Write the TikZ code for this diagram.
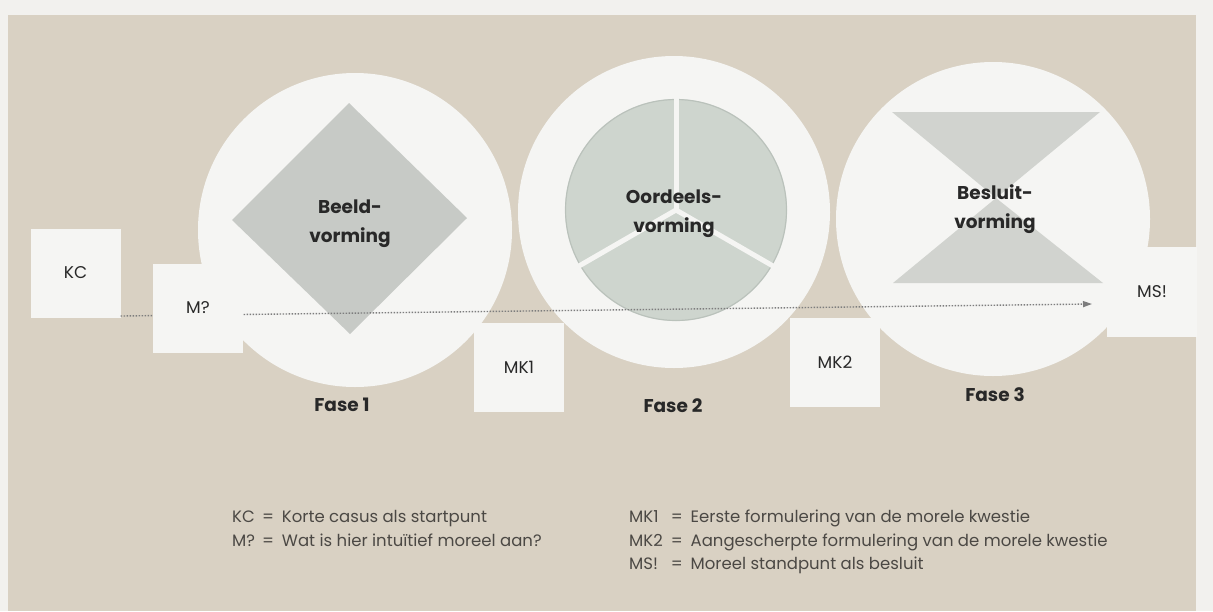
\documentclass[tikz,border=0pt]{standalone}
\usepackage{fontspec}
\setmainfont{Poppins}
\usetikzlibrary{arrows.meta}
\definecolor{paper}{RGB}{242,241,238}
\definecolor{bg}{RGB}{217,209,195}
\definecolor{discw}{RGB}{245,245,243}
\definecolor{diam}{RGB}{199,202,198}
\definecolor{pie}{RGB}{206,213,206}
\definecolor{pieedge}{RGB}{178,186,180}
\definecolor{hour}{RGB}{209,211,207}
\definecolor{ink}{RGB}{40,40,40}
\definecolor{legendink}{RGB}{75,72,68}
\definecolor{dotc}{RGB}{125,125,125}
\tikzset{
  discnode/.style={circle, fill=discw, inner sep=0pt, minimum size=#1},
  box/.style={rectangle, fill=discw, inner sep=0pt, minimum width=90pt, minimum height=89pt,
     font=\fontsize{17}{20}\selectfont, text=ink},
  phase/.style={align=center, font=\bfseries\fontsize{18.5}{29}\selectfont, text=ink},
  fase/.style={font=\bfseries\fontsize{18.5}{20}\selectfont, text=ink},
  legend/.style={anchor=north west, inner sep=0pt, font=\fontsize{16.5}{23.5}\selectfont, text=legendink},
  flow/.style={draw=dotc, line width=1.4pt, dash pattern=on 1.4pt off 1.6pt,
     -{Triangle[length=9pt,width=6pt,fill=dotc]}},
  divider/.style={draw=discw, line width=5pt},
}
\begin{document}
\begin{tikzpicture}[x=1pt,y=-1pt]
\useasboundingbox (0,0) rectangle (1213,611);
\fill[paper] (0,0) rectangle (1213,611);
\fill[bg] (8,15) rectangle (1196,611);

% discs
\node[discnode=314pt] (c1) at (355,230) {};
\node[discnode=312pt] (c2) at (674,212) {};
\node[discnode=314pt] (c3) at (993,219) {};

% phase 1: diamond
\fill[diam] (349,103) -- (467,218) -- (350,334) -- (232,220) -- cycle;
% phase 2: three-part disc
\fill[pie] (676,210) circle[radius=111pt];
\draw[pieedge, line width=1.2pt, opacity=0.7] (676,210) circle[radius=110.5pt];
\foreach \a in {90,210,330}
  \draw[divider] (676,210) -- ++(\a:114pt);
% phase 3: hourglass
\fill[hour] (892,112) -- (1100,112) -- (996,198) -- cycle;
\fill[hour] (996,198) -- (1103,283) -- (893,283) -- cycle;

% phase texts
\node[phase] (p1) at (350,224) {Beeld-\\vorming};
\node[phase] (p2) at (674,214) {Oordeels-\\vorming};
\node[phase] (p3) at (995,209) {Besluit-\\vorming};

\node[fase] (f1) at (342,405) {Fase 1};
\node[fase] (f2) at (673,406) {Fase 2};
\node[fase] (f3) at (995,395) {Fase 3};

% boxes and flow line
\node[box] (kc) at (75.5,273) {KC};
\coordinate (startY) at (0,316);
\coordinate (tip) at (1092,304);
\draw[flow] (kc.east |- startY) -- (tip);

\node[box] (mq) at (198,308) {M?};
\node[box] (mk1) at (519,367) {MK1};
\node[box] (mk2) at (835,362) {MK2};
\node[box, minimum height=90pt] (ms) at (1152,292) {MS!};

% legend
\node[legend] (lg1) at (232,506) {\begin{tabular}{@{}l@{\hspace{7pt}=\hspace{8pt}}l@{}}
KC & Korte casus als startpunt\\
M? & Wat is hier intuïtief moreel aan?
\end{tabular}};
\node[legend] (lg2) at (629,506) {\begin{tabular}{@{}l@{\hspace{8pt}=\hspace{8pt}}l@{}}
MK1 & Eerste formulering van de morele kwestie\\
MK2 & Aangescherpte formulering van de morele kwestie\\
MS! & Moreel standpunt als besluit
\end{tabular}};
\end{tikzpicture}
\end{document}
